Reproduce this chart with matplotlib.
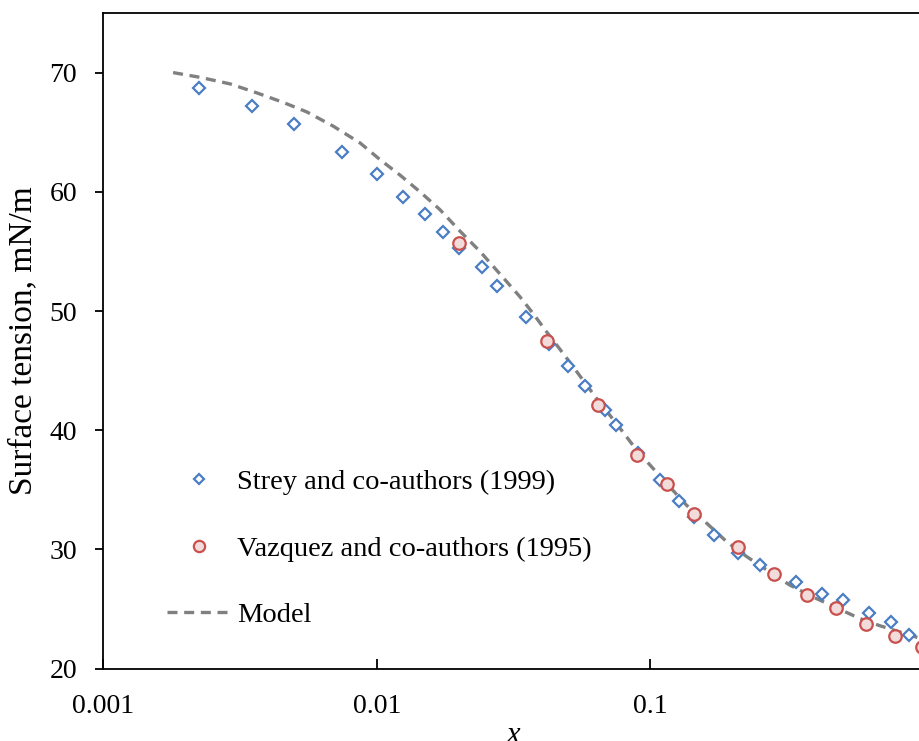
import matplotlib
matplotlib.use("Agg")
import matplotlib.pyplot as plt
from matplotlib.ticker import FixedLocator, FixedFormatter, NullLocator

plt.rcParams['font.family'] = ['Liberation Serif', 'DejaVu Serif']

# Strey and co-authors (1999)
strey_x = [0.00224, 0.00351, 0.00500, 0.00745, 0.0100, 0.0125, 0.0150, 0.0175,
           0.0200, 0.0242, 0.0276, 0.0351, 0.0428, 0.0502, 0.0580, 0.0684,
           0.0750, 0.0906, 0.109, 0.128, 0.145, 0.171, 0.209, 0.252,
           0.343, 0.424, 0.509, 0.632, 0.760, 0.887]
strey_y = [68.7, 67.2, 65.7, 63.3, 61.5, 59.6, 58.1, 56.6,
           55.3, 53.7, 52.1, 49.5, 47.2, 45.4, 43.7, 41.7,
           40.4, 38.1, 35.8, 34.1, 32.7, 31.2, 29.7, 28.7,
           27.3, 26.3, 25.8, 24.7, 23.9, 22.8]

# Vazquez and co-authors (1995)
vaz_x = [0.0200, 0.0419, 0.0646, 0.0893, 0.115, 0.145, 0.209, 0.284,
         0.374, 0.479, 0.616, 0.787, 0.985]
vaz_y = [55.7, 47.5, 42.1, 37.9, 35.5, 33.0, 30.2, 27.9,
         26.2, 25.1, 23.75, 22.7, 21.85]

# Model curve
model_x = [0.00180, 0.00226, 0.00291, 0.00364, 0.00455, 0.00555, 0.00694, 0.00869,
           0.01028, 0.01217, 0.01440, 0.01704, 0.02017, 0.02387, 0.02825, 0.0334,
           0.0373, 0.0420, 0.0501, 0.0645, 0.0757, 0.0895, 0.1153, 0.1361,
           0.1611, 0.1906, 0.2256, 0.2745, 0.3249, 0.3954, 0.4815, 0.5856,
           0.6933, 0.868, 0.971, 1.0]
model_y = [70.0, 69.6, 69.05, 68.3, 67.5, 66.7, 65.5, 64.1,
           62.7, 61.4, 60.0, 58.5, 56.7, 55.0, 53.1, 51.2,
           49.8, 48.2, 45.9, 42.5, 40.5, 38.3, 35.5, 33.7,
           32.2, 30.65, 29.4, 28.1, 27.0, 26.0, 25.1, 24.2,
           23.6, 22.9, 22.55, 22.45]

xticks = [0.001, 0.01, 0.1, 1]
xtick_labels = ['0.001', '0.01', '0.1', '1']
yticks = [20, 30, 40, 50, 60, 70]

fig = plt.figure(figsize=(9.2, 7.41), dpi=100)
ax = fig.add_axes([0.1123, 0.0976, 0.8915, 0.8849])

ax.plot(strey_x, strey_y, linestyle='none', marker='D', markersize=6,
        markerfacecolor='white', markeredgecolor='#4a7ec4', markeredgewidth=1.6,
        label='Strey and co-authors (1999)', zorder=3)
ax.plot(vaz_x, vaz_y, linestyle='none', marker='o', markersize=9,
        markerfacecolor='#f2dcdb', markeredgecolor='#c8504d', markeredgewidth=1.6,
        label='Vazquez and co-authors (1995)', zorder=4)
line, = ax.plot(model_x, model_y, color='#808080', linewidth=2.4,
                label='Model', zorder=2)
line.set_dashes((3, 2))

ax.set_xscale('log')
ax.set_xlim(0.001, 1)
ax.set_ylim(20, 75)
ax.xaxis.set_major_locator(FixedLocator(xticks))
ax.xaxis.set_major_formatter(FixedFormatter(xtick_labels))
ax.xaxis.set_minor_locator(NullLocator())
ax.set_yticks(yticks)

ax.tick_params(axis='x', direction='in', length=7, width=1.3, labelsize=20, pad=18)
ax.tick_params(axis='y', direction='out', length=6, width=1.3, labelsize=20, pad=13)
for s in ax.spines.values():
    s.set_linewidth(1.3)

ax.set_xlabel('x', fontsize=22, style='italic', labelpad=2)
ax.set_ylabel('Surface tension, mN/m', fontsize=24, labelpad=8)

ax.legend(loc='center left', bbox_to_anchor=(0.078, 0.183), frameon=False,
          fontsize=20.5, labelspacing=1.42, handlelength=2.2, handletextpad=0.25,
          borderpad=0, borderaxespad=0, numpoints=1, markerscale=0.9)

fig.savefig('out.png', dpi=100)
